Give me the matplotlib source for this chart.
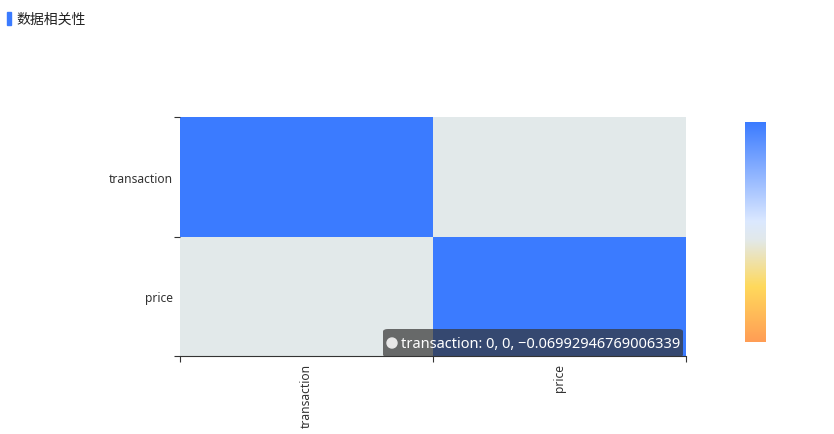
import numpy as np
import matplotlib
matplotlib.use("Agg")
import matplotlib.pyplot as plt
from matplotlib.colors import LinearSegmentedColormap
from matplotlib.patches import FancyBboxPatch, Rectangle, Ellipse

plt.rcParams['font.family'] = ['Noto Sans', 'Noto Sans CJK SC', 'DejaVu Sans']

title = '数据相关性'
labels = ['transaction', 'price']
corr_value = -0.06992946769006339
corr = [[1.0, corr_value],
        [corr_value, 1.0]]
tip_row, tip_col = 0, 0

cmap = LinearSegmentedColormap.from_list('corr', [
    (0.0, '#ff9d55'),
    (0.25, '#ffd95c'),
    (0.465, '#e2e9ea'),
    (0.55, '#dbe8ff'),
    (1.0, '#3b7bff'),
])

fig = plt.figure(figsize=(8.34, 4.35), dpi=100)
W, H = 834, 435

def fx(px):
    return px / W

def fy(py):
    return 1 - py / H

ax = fig.add_axes([fx(180), fy(357), fx(686) - fx(180), fy(118) - fy(357)])
data = np.array(corr)
ax.pcolormesh(np.arange(len(labels) + 1), np.arange(len(labels) + 1), data,
              cmap=cmap, vmin=-1, vmax=1)
ax.set_xlim(0, len(labels))
ax.set_ylim(len(labels), 0)

ax.set_xticks(np.arange(len(labels) + 1))
ax.set_yticks(np.arange(len(labels) + 1))
ax.set_xticklabels([])
ax.set_yticklabels([])
ax.set_xticks(np.arange(len(labels)) + 0.5, minor=True)
ax.set_yticks(np.arange(len(labels)) + 0.5, minor=True)
ax.set_xticklabels(labels, minor=True, rotation=90, fontsize=8.7, color='#333333')
ax.set_yticklabels(labels, minor=True, fontsize=8.7, color='#333333')
ax.tick_params(which='major', length=4, width=0.8, color='#333333')
ax.tick_params(axis='y', which='minor', length=0, pad=5)
ax.tick_params(axis='x', which='minor', length=0, pad=5)
for s in ['top', 'right', 'left']:
    ax.spines[s].set_visible(False)
ax.spines['bottom'].set_color('#333333')
ax.spines['bottom'].set_linewidth(0.8)

# colour bar
cax = fig.add_axes([fx(745), fy(343), fx(766) - fx(745), fy(123) - fy(343)])
grad = np.linspace(1, -1, 256).reshape(-1, 1)
cax.imshow(grad, cmap=cmap, vmin=-1, vmax=1, aspect='auto')
cax.set_xticks([])
cax.set_yticks([])
for s in cax.spines.values():
    s.set_visible(False)

# title
fig.patches.append(Rectangle((fx(7), fy(26)), fx(4), fy(13) - fy(26),
                             transform=fig.transFigure, color='#3b7bff'))
fig.text(fx(16), fy(20), title, fontsize=10, color='#222222', va='center',
         family=['Noto Sans CJK SC', 'DejaVu Sans'])

# tooltip
tip = FancyBboxPatch((fx(383), fy(358)), fx(683) - fx(383), fy(330) - fy(358),
                     boxstyle='round,pad=0,rounding_size=0.006',
                     transform=fig.transFigure, facecolor=(0.2, 0.2, 0.2, 0.7),
                     edgecolor='none', zorder=10)
fig.patches.append(tip)
fig.patches.append(Ellipse((fx(392), fy(344)), fx(10), 10 / H,
                           transform=fig.transFigure, color='#e8e8e8', zorder=11))
tip_text = '%s: %d, %d, %s' % (labels[tip_row], tip_row, tip_col,
                               repr(corr[tip_row][tip_col + 1]).replace('-', '\u2212'))
fig.text(fx(401), fy(345), tip_text, fontsize=10.5, color='white', va='center',
         zorder=12)

fig.savefig('out.png', dpi=100)
